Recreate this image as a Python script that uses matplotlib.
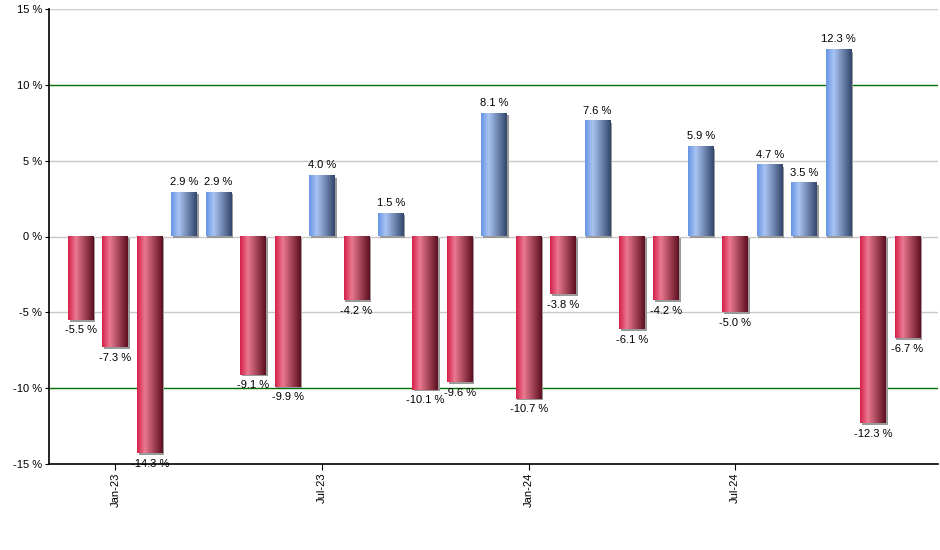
import numpy as np
import matplotlib
matplotlib.use("Agg")
import matplotlib.pyplot as plt
from matplotlib.colors import LinearSegmentedColormap
from matplotlib.patches import Rectangle
import matplotlib.transforms as mtransforms

plt.rcParams['font.family'] = ['Liberation Sans', 'DejaVu Sans']

# monthly returns, Dec-22 .. Dec-24
months = ["Dec-22", "Jan-23", "Feb-23", "Mar-23", "Apr-23", "May-23", "Jun-23",
          "Jul-23", "Aug-23", "Sep-23", "Oct-23", "Nov-23", "Dec-23", "Jan-24",
          "Feb-24", "Mar-24", "Apr-24", "May-24", "Jun-24", "Jul-24", "Aug-24",
          "Sep-24", "Oct-24", "Nov-24", "Dec-24"]
returns = [-5.5, -7.3, -14.3, 2.9, 2.9, -9.1, -9.9, 4.0, -4.2, 1.5, -10.1, -9.6,
           8.1, -10.7, -3.8, 7.6, -6.1, -4.2, 5.9, -5.0, 4.7, 3.5, 12.3, -12.3, -6.7]
shown_ticks = ["Jan-23", "Jul-23", "Jan-24", "Jul-24"]
y_ticks = [-15, -10, -5, 0, 5, 10, 15]

red_cmap = LinearSegmentedColormap.from_list(
    "red", [(0, "#d6224a"), (0.3, "#ea7890"), (1, "#5e1020")])
blue_cmap = LinearSegmentedColormap.from_list(
    "blue", [(0, "#6795e6"), (0.3, "#a9c4f2"), (1, "#33476c")])

fig = plt.figure(figsize=(9.4, 5.5), dpi=100)
ax = fig.add_axes([0.052, 0.1564, 0.946, 0.8272])

x = np.arange(len(months))
width = 0.75
grad = np.linspace(0, 1, 64).reshape(1, -1)
shadow_tr = ax.transData + mtransforms.ScaledTranslation(1.2 / 72, -1.2 / 72, fig.dpi_scale_trans)

for xi, v in zip(x, returns):
    left = xi - width / 2
    bottom = min(0, v)
    # shadow
    ax.add_patch(Rectangle((left, bottom), width, abs(v), color="#9a9a9a",
                           transform=shadow_tr, zorder=2, lw=0))
    cmap = blue_cmap if v >= 0 else red_cmap
    ax.imshow(grad, cmap=cmap, aspect="auto", interpolation="bilinear",
              extent=(left, left + width, bottom, bottom + abs(v)), zorder=3)
    if v >= 0:
        ax.annotate(f"{v:.1f} %", (xi, v), xytext=(0, 4), textcoords="offset points",
                    ha="center", va="bottom", fontsize=8)
    else:
        ax.annotate(f"{v:.1f} %", (xi, v), xytext=(0, -4), textcoords="offset points",
                    ha="center", va="top", fontsize=8)

for yv in [15, 5, 0, -5]:
    ax.axhline(yv, color="#c8c8c8", lw=1, zorder=1)
for yv in [10, -10]:
    ax.axhline(yv, color="#007000", lw=1, zorder=1)

ax.set_xlim(-0.93, 24.89)
ax.set_ylim(-15, 15)
ax.set_yticks(y_ticks)
ax.set_yticklabels([f"{t} %" for t in y_ticks], fontsize=8)
ax.set_xticks([months.index(m) for m in shown_ticks])
ax.set_xticklabels(shown_ticks, rotation=90, fontsize=8)
ax.tick_params(axis="y", length=3, pad=2)
ax.tick_params(axis="x", length=4, pad=2)
ax.spines["top"].set_visible(False)
ax.spines["right"].set_visible(False)
ax.spines["left"].set_linewidth(1.2)
ax.spines["bottom"].set_linewidth(1.2)

fig.savefig("out.png", dpi=100)
